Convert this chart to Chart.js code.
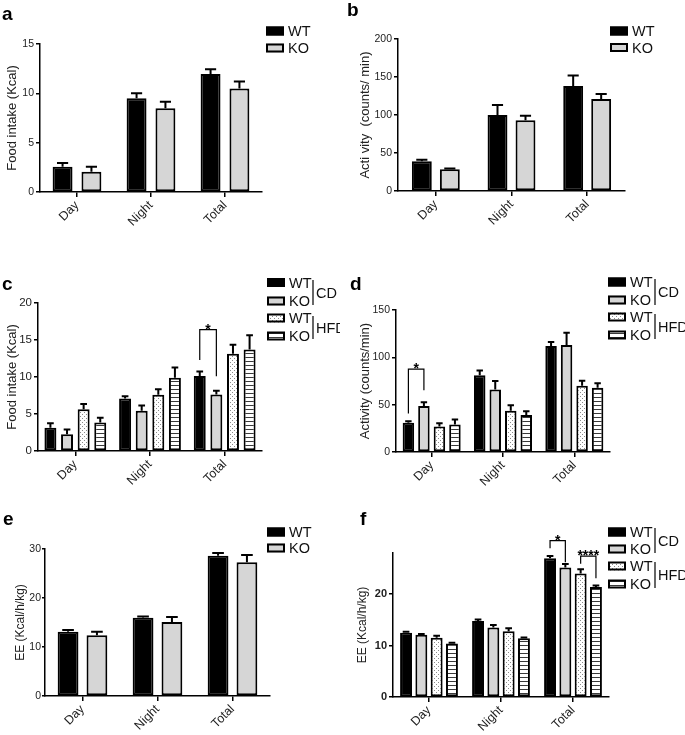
<!DOCTYPE html>
<html>
<head>
<meta charset="utf-8">
<script src="https://cdn.jsdelivr.net/npm/chart.js@4.4.0/dist/chart.umd.min.js"></script>
<style>
  html, body { margin: 0; padding: 0; background: #fff; }
  #page { position: relative; width: 685px; height: 735px; overflow: hidden; }
  .panel { position: absolute; }
  .tag { position: absolute; font: bold 19px "Liberation Sans", Arial, sans-serif; line-height: 19px; color: #000; }
</style>
</head>
<body>
<div id="page"></div>
<script>
const FONT = '"Liberation Sans", Arial, sans-serif';

// categories / groups
const periods = ['Day', 'Night', 'Total'];
const genotypes = ['WT', 'KO'];
const diets = ['CD', 'HFD'];

// y tick values per panel
const ticksA = [0, 5, 10, 15];
const ticksB = [0, 50, 100, 150, 200];
const ticksC = [0, 5, 10, 15, 20];
const ticksD = [0, 50, 100, 150];
const ticksE = [0, 10, 20, 30];
const ticksF = [0, 10, 20];

// a - food intake
const foodWT = [2.55, 9.5, 11.95];
const foodWTErr = [0.4, 0.5, 0.5];
const foodKO = [2.05, 8.5, 10.5];
const foodKOErr = [0.5, 0.65, 0.7];

// b - activity
const actWT = [39, 100, 138];
const actWTErr = [2, 13, 14];
const actKO = [28.6, 93, 121];
const actKOErr = [1, 6, 6.5];

// c - food intake, CD vs HFD
const foodCdWT = [3.15, 7.1, 10.15];
const foodCdWTErr = [0.6, 0.3, 0.6];
const foodCdKO = [2.25, 5.45, 7.65];
const foodCdKOErr = [0.65, 0.7, 0.5];
const foodHfdWT = [5.65, 7.6, 13.15];
const foodHfdWTErr = [0.7, 0.75, 1.2];
const foodHfdKO = [3.85, 9.9, 13.7];
const foodHfdKOErr = [0.65, 1.4, 1.95];

// d - activity, CD vs HFD
const actCdWT = [31, 81, 112];
const actCdWTErr = [1.4, 5, 4.3];
const actCdKO = [48.5, 66, 113];
const actCdKOErr = [4, 9, 13];
const actHfdWT = [27, 43.5, 70];
const actHfdWTErr = [3.5, 6, 5.3];
const actHfdKO = [29, 39, 68];
const actHfdKOErr = [5.3, 4, 4.6];

// e - energy expenditure
const eeWT = [13.1, 15.95, 28.6];
const eeWTErr = [0.35, 0.25, 0.6];
const eeKO = [12.4, 15.1, 27.3];
const eeKOErr = [0.7, 1, 1.5];

// f - energy expenditure, CD vs HFD
const eeCdWT = [12.5, 14.8, 27];
const eeCdWTErr = [0.2, 0.25, 0.4];
const eeCdKO = [12.1, 13.5, 25.2];
const eeCdKOErr = [0.15, 0.5, 0.65];
const eeHfdWT = [11.5, 12.8, 24];
const eeHfdWTErr = [0.4, 0.55, 0.85];
const eeHfdKO = [10.4, 11.4, 21.4];
const eeHfdKOErr = [0.15, 0.15, 0.3];

// significance brackets (axis units)
const sigC = [{cat: 2, from: 0, to: 1, top: 16.4, left: 12.3, right: 10.1, text: '*'}];
const sigD = [{cat: 0, from: 0, to: 1, top: 87.5, left: 40.6, right: 65.3, text: '*'}];
const sigF = [
  {cat: 2, from: 0, to: 1, top: 30.4, left: 28.9, right: 26.2, text: '*'},
  {cat: 2, from: 2, to: 3, top: 27.4, left: 25.9, right: 23.1, text: '****'}
];

// fills
function dotPattern() {
  const c = document.createElement('canvas');
  c.width = 4; c.height = 4;
  const g = c.getContext('2d');
  g.fillStyle = '#fff'; g.fillRect(0, 0, 4, 4);
  g.fillStyle = '#8a8a8a';
  g.fillRect(0, 0, 1, 1); g.fillRect(2, 2, 1, 1);
  return g.createPattern(c, 'repeat');
}
function stripePattern() {
  const c = document.createElement('canvas');
  c.width = 4; c.height = 4;
  const g = c.getContext('2d');
  g.fillStyle = '#fff'; g.fillRect(0, 0, 4, 4);
  g.fillStyle = '#3a3a3a'; g.fillRect(0, 1, 4, 1);
  return g.createPattern(c, 'repeat');
}
const FILL_WT = '#000';
const FILL_KO = '#d6d6d6';
const FILL_HFD_WT = dotPattern();
const FILL_HFD_KO = stripePattern();

const twoSeries = (wt, wtErr, ko, koErr) => [
  [genotypes[0], wt, wtErr, FILL_WT],
  [genotypes[1], ko, koErr, FILL_KO]
];
const fourSeries = (a, ae, b, be, c, ce, d, de) => [
  [genotypes[0], a, ae, FILL_WT],
  [genotypes[1], b, be, FILL_KO],
  [genotypes[0], c, ce, FILL_HFD_WT],
  [genotypes[1], d, de, FILL_HFD_KO]
];

// layout of each panel on the page: box = canvas [left, top, w, h], area = plot [x0, y0, x1, y1]
const panels = [
  {tag: 'a', tagPos: [2, 4], box: [0, 0, 340, 240], area: [40, 44, 262, 192],
   max: 15, ticks: ticksA, title: 'Food intake (Kcal)', titleX: 12, titleSize: 13, tickSize: 10.5,
   series: twoSeries(foodWT, foodWTErr, foodKO, foodKOErr), cp: 0.78, bp: 0.69,
   legend: {x: 266, rows: [31, 48]}},
  {tag: 'b', tagPos: [347, 0], box: [340, 0, 345, 240], area: [398, 39, 625, 191],
   max: 200, ticks: ticksB, title: 'Acti vity  (counts/ min)', titleX: 25, titleSize: 13, tickSize: 10.5,
   series: twoSeries(actWT, actWTErr, actKO, actKOErr), cp: 0.74, bp: 0.71,
   legend: {x: 610, rows: [31, 47.5]}},
  {tag: 'c', tagPos: [2, 274], box: [0, 240, 340, 260], area: [38, 303, 262, 451],
   max: 20, ticks: ticksC, title: 'Food intake (Kcal)', titleX: 12, titleSize: 13, tickSize: 11.5,
   series: fourSeries(foodCdWT, foodCdWTErr, foodCdKO, foodCdKOErr, foodHfdWT, foodHfdWTErr, foodHfdKO, foodHfdKOErr),
   cp: 0.89, bp: 0.72, sig: sigC,
   legend: {x: 267, rows: [282.5, 301, 318, 336], vx: 313, groups: [[280, 305], [316, 339]]}},
  {tag: 'd', tagPos: [350, 274], box: [340, 240, 345, 260], area: [396, 310, 610, 452],
   max: 150, ticks: ticksD, title: 'Activity (counts/min)', titleX: 25, titleSize: 13, tickSize: 10.5,
   series: fourSeries(actCdWT, actCdWTErr, actCdKO, actCdKOErr, actHfdWT, actHfdWTErr, actHfdKO, actHfdKOErr),
   cp: 0.87, bp: 0.74, sig: sigD,
   legend: {x: 608, rows: [282, 300, 317, 335], vx: 655, groups: [[279, 305], [314, 339]]}},
  {tag: 'e', tagPos: [3, 509], box: [0, 500, 340, 235], area: [45, 549, 270, 696],
   max: 30, ticks: ticksE, title: 'EE (Kcal/h/kg)', titleX: 21, titleSize: 12, tickSize: 10.5, tickLen: 3,
   series: twoSeries(eeWT, eeWTErr, eeKO, eeKOErr), cp: 0.77, bp: 0.72,
   legend: {x: 267, rows: [532, 548]}},
  {tag: 'f', tagPos: [360, 509], box: [340, 500, 345, 235], area: [393, 553, 609, 697],
   max: 28, ticks: ticksF, title: 'EE (Kcal/h/kg)', titleX: 23, titleSize: 12, tickSize: 11, tickBold: true,
   series: fourSeries(eeCdWT, eeCdWTErr, eeCdKO, eeCdKOErr, eeHfdWT, eeHfdWTErr, eeHfdKO, eeHfdKOErr),
   cp: 0.85, bp: 0.78, sig: sigF,
   legend: {x: 608, rows: [532, 549, 566, 584], vx: 655, groups: [[528, 553], [562, 588]]}}
];

// upper error bars
const errorBars = {
  id: 'errorBars',
  afterDatasetsDraw(chart) {
    const ctx = chart.ctx;
    const y = chart.scales.y;
    ctx.save();
    ctx.strokeStyle = '#000';
    ctx.lineWidth = 2;
    chart.data.datasets.forEach((ds, i) => {
      chart.getDatasetMeta(i).data.forEach((bar, j) => {
        const top = y.getPixelForValue(ds.data[j] + ds.err[j]);
        const half = bar.width * 0.28;
        ctx.beginPath();
        ctx.moveTo(bar.x, bar.y);
        ctx.lineTo(bar.x, top);
        ctx.moveTo(bar.x - half, top);
        ctx.lineTo(bar.x + half, top);
        ctx.stroke();
      });
    });
    ctx.restore();
  }
};

function makePanel(p) {
  const [L, T, W, H] = p.box;
  const [x0, y0, x1, y1] = p.area;
  const page = document.getElementById('page');

  const wrap = document.createElement('div');
  wrap.className = 'panel';
  wrap.style.left = L + 'px';
  wrap.style.top = T + 'px';
  const canvas = document.createElement('canvas');
  canvas.width = W;
  canvas.height = H;
  canvas.style.width = W + 'px';
  canvas.style.height = H + 'px';
  wrap.appendChild(canvas);
  page.appendChild(wrap);

  const tag = document.createElement('div');
  tag.className = 'tag';
  tag.textContent = p.tag;
  tag.style.left = p.tagPos[0] + 'px';
  tag.style.top = p.tagPos[1] + 'px';
  page.appendChild(tag);

  const extras = {
    id: 'extras',
    afterDraw(chart) {
      const ctx = chart.ctx;
      const y = chart.scales.y;
      ctx.save();
      // significance brackets
      (p.sig || []).forEach(s => {
        const xa = chart.getDatasetMeta(s.from).data[s.cat].x;
        const xb = chart.getDatasetMeta(s.to).data[s.cat].x;
        const yt = y.getPixelForValue(s.top);
        ctx.strokeStyle = '#000';
        ctx.lineWidth = 1.2;
        ctx.beginPath();
        ctx.moveTo(xa, y.getPixelForValue(s.left));
        ctx.lineTo(xa, yt);
        ctx.lineTo(xb, yt);
        ctx.lineTo(xb, y.getPixelForValue(s.right));
        ctx.stroke();
        ctx.fillStyle = '#000';
        ctx.font = 'bold 14px ' + FONT;
        ctx.textAlign = 'center';
        ctx.textBaseline = 'alphabetic';
        ctx.fillText(s.text, (xa + xb) / 2, yt + 4);
      });
      // legend
      const lg = p.legend;
      const lx = lg.x - L;
      ctx.textAlign = 'left';
      ctx.textBaseline = 'middle';
      ctx.font = '14.5px ' + FONT;
      chart.data.datasets.forEach((ds, i) => {
        const cy = lg.rows[i] - T;
        ctx.fillStyle = ds.backgroundColor;
        ctx.fillRect(lx, cy - 4.5, 18, 9);
        ctx.strokeStyle = '#000';
        ctx.lineWidth = 2;
        ctx.strokeRect(lx + 1, cy - 3.5, 16, 7);
        ctx.fillStyle = '#111';
        ctx.fillText(ds.label, lx + 22, cy + 1);
      });
      if (lg.groups) {
        lg.groups.forEach((g, k) => {
          const vx = lg.vx - L;
          ctx.strokeStyle = '#000';
          ctx.lineWidth = 1.2;
          ctx.beginPath();
          ctx.moveTo(vx, g[0] - T);
          ctx.lineTo(vx, g[1] - T);
          ctx.stroke();
          ctx.fillStyle = '#111';
          ctx.fillText(diets[k], vx + 3, (g[0] + g[1]) / 2 - T + 1);
        });
      }
      ctx.restore();
    }
  };

  const titleLine = p.titleSize * 1.2;

  return new Chart(canvas, {
    type: 'bar',
    data: {
      labels: periods,
      datasets: p.series.map(s => ({
        label: s[0],
        data: s[1],
        err: s[2],
        backgroundColor: s[3],
        borderColor: '#000',
        borderWidth: 2,
        borderSkipped: false,
        categoryPercentage: p.cp,
        barPercentage: p.bp
      }))
    },
    options: {
      responsive: false,
      maintainAspectRatio: false,
      animation: false,
      layout: {
        padding: {top: y0 - T, right: L + W - x1, left: 0, bottom: 0}
      },
      plugins: {
        legend: {display: false},
        tooltip: {enabled: false}
      },
      scales: {
        x: {
          offset: true,
          grid: {display: true, drawOnChartArea: false, offset: false, tickLength: 5, color: '#000', lineWidth: 1.5},
          border: {color: '#000', width: 1.5},
          ticks: {
            color: '#222',
            font: {family: FONT, size: 12.5},
            minRotation: 45,
            maxRotation: 45,
            padding: 1
          },
          afterFit: s => { s.height = T + H - y1; }
        },
        y: {
          min: 0,
          max: p.max,
          bounds: 'data',
          grid: {display: true, drawOnChartArea: false, tickLength: p.tickLen || 4, color: '#000', lineWidth: 1.5},
          border: {color: '#000', width: 1.5},
          ticks: {
            color: '#222',
            padding: p.tickLen ? 1 : 2,
            font: {family: FONT, size: p.tickSize, weight: p.tickBold ? 'bold' : 'normal'}
          },
          afterBuildTicks: s => { s.ticks = p.ticks.map(v => ({value: v})); },
          title: {
            display: true,
            text: p.title,
            color: '#222',
            font: {family: FONT, size: p.titleSize},
            padding: {top: p.titleX - titleLine / 2, bottom: 0}
          },
          afterFit: s => { s.width = x0 - L; }
        }
      }
    },
    plugins: [errorBars, extras]
  });
}

panels.forEach(makePanel);
</script>
</body>
</html>
